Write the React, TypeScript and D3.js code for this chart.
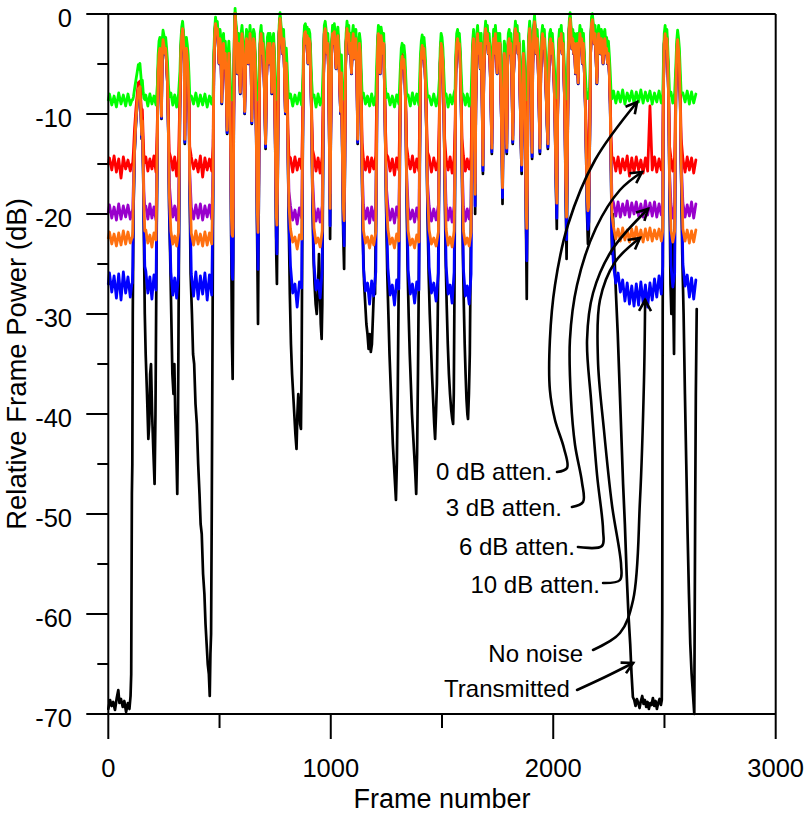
import React from "react";
import * as d3 from "d3";

type Pt = [number, number];

// transmitted frame power (black trace), [frame, dB]
const transmitted: Pt[] = [
  [0, -69.5], [8, -68.6], [15, -69.2], [22, -68.8], [30, -69.6], [38, -68.4], [45, -67.6], [50, -68.9],
  [57, -68.5], [65, -69.3], [72, -68.7], [80, -69.8], [88, -68.9], [95, -69.5], [100, -68.2], [103, -66],
  [106, -48], [108, -45], [110, -30], [113, -20], [118, -14], [124, -11], [130, -9], [135, -7.6],
  [139, -8.5], [142, -7.4], [146, -9.5], [150, -12.5], [153, -11], [157, -16], [160, -22], [164, -30],
  [168, -34], [174, -38], [180, -42.5], [184, -41], [188, -36], [192, -35], [197, -40], [203, -44],
  [208, -47], [212, -40], [215, -30], [218, -20], [221, -12], [224, -6], [228, -4], [232, -3.5],
  [236, -5], [239, -10.5], [242, -4], [246, -2.6], [250, -3.2], [254, -4], [258, -3.5], [262, -5],
  [266, -7], [270, -12], [274, -20], [278, -24], [283, -30], [288, -36], [293, -38], [297, -35],
  [301, -40], [306, -44], [310, -48], [313, -42], [316, -30], [319, -18], [322, -9], [326, -4],
  [330, -2.2], [334, -1.5], [338, -2.8], [341, -4], [344, -13], [347, -5], [351, -3.5], [355, -4.5],
  [359, -6], [363, -10], [366, -18], [370, -26], [376, -30], [381, -34], [386, -35], [392, -39],
  [398, -41], [404, -45], [410, -48], [415, -51], [420, -52], [426, -56], [432, -58], [437, -61],
  [442, -63], [447, -65], [452, -66], [456, -68.2], [459, -64], [462, -62], [465, -50], [467, -40],
  [469, -30], [471, -18], [474, -6], [478, -2.5], [482, -1], [486, -2], [490, -1.5], [494, -3],
  [498, -5], [502, -2.5], [506, -3.5], [510, -9], [514, -4], [518, -3], [522, -5.5], [526, -4],
  [530, -7], [534, -12], [538, -6], [542, -4], [546, -8], [550, -14], [553, -24], [556, -33],
  [559, -36.5], [561, -28], [564, -10], [567, -2], [570, 0], [573, -1.5], [577, -2.5], [581, -6],
  [585, -3], [589, -4.5], [593, -8], [597, -3], [601, -2], [605, -3.5], [609, -6], [613, -10],
  [617, -5], [621, -2.5], [625, -3], [629, -5], [633, -4], [637, -2], [641, -3.5], [645, -11],
  [649, -4], [653, -2.5], [657, -3], [661, -6], [665, -12], [669, -22], [673, -31], [676, -20],
  [679, -8], [683, -3], [687, -2], [691, -4], [695, -3], [699, -5], [703, -9], [707, -13.5],
  [711, -7], [715, -3.5], [719, -3], [723, -5], [727, -3], [731, -4], [735, -8], [739, -4],
  [743, -3], [747, -6], [751, -14], [755, -24], [758, -27], [761, -18], [764, -7], [768, -2],
  [772, -0.5], [776, -1.8], [780, -3], [784, -4], [788, -2.5], [792, -6], [796, -10], [800, -5],
  [804, -8], [808, -15], [812, -22], [816, -28], [821, -33], [826, -36], [831, -38], [836, -40],
  [841, -42], [846, -43.5], [850, -40], [854, -38], [858, -39], [862, -41], [866, -41.5], [869, -35],
  [872, -22], [875, -10], [878, -4], [882, -2], [886, -1.8], [890, -3], [894, -2.2], [898, -5],
  [902, -2.5], [906, -3], [910, -6], [914, -11], [918, -19], [922, -24], [927, -27], [932, -29],
  [937, -30], [942, -28], [947, -24], [951, -27], [955, -31], [959, -32.5], [962, -29], [965, -16],
  [968, -6], [971, -2], [975, -1.5], [979, -2.5], [983, -4], [987, -3], [991, -7], [994, -14],
  [997, -22.5], [1000, -12], [1004, -4], [1008, -2], [1012, -3], [1016, -1.8], [1020, -3], [1024, -5.5],
  [1028, -3], [1032, -2.2], [1036, -4], [1040, -7], [1044, -10], [1048, -6], [1052, -14], [1056, -22],
  [1060, -25.5], [1063, -16], [1066, -6], [1069, -3], [1073, -1.5], [1077, -2.5], [1081, -2], [1085, -4],
  [1089, -3], [1093, -6], [1097, -3], [1101, -2], [1105, -4.5], [1109, -3], [1113, -2.5], [1117, -5],
  [1121, -13], [1125, -6], [1129, -3], [1133, -4], [1137, -9], [1141, -17], [1145, -23], [1150, -27],
  [1155, -29], [1160, -31], [1165, -32], [1170, -33.5], [1175, -32], [1180, -33.8], [1185, -33], [1190, -30],
  [1195, -27], [1199, -28], [1203, -20], [1206, -10], [1210, -4], [1214, -2], [1218, -2.5], [1222, -6],
  [1226, -2.2], [1230, -3], [1234, -4], [1238, -3], [1242, -8], [1246, -14], [1250, -21], [1254, -26],
  [1259, -30], [1264, -34], [1269, -37], [1274, -40], [1279, -43], [1284, -45], [1289, -47], [1293, -48.6],
  [1297, -45], [1301, -38], [1305, -28], [1309, -15], [1313, -8], [1317, -5], [1321, -4.3], [1325, -5.5],
  [1329, -4.6], [1333, -6], [1337, -10], [1341, -18], [1345, -25], [1350, -30], [1355, -34], [1360, -37],
  [1365, -40], [1370, -42], [1375, -44], [1380, -46], [1384, -48], [1388, -44], [1392, -36], [1396, -26],
  [1400, -14], [1403, -6], [1407, -4], [1411, -3.2], [1415, -4.5], [1419, -3.5], [1423, -5], [1427, -8],
  [1431, -13], [1435, -20], [1440, -26], [1445, -30], [1450, -33], [1455, -36], [1460, -38.5], [1465, -41],
  [1469, -42.5], [1473, -40], [1477, -37], [1481, -30], [1485, -20], [1489, -10], [1492, -5], [1496, -3],
  [1500, -3.5], [1504, -5], [1508, -9], [1512, -16], [1516, -24], [1521, -29], [1526, -33], [1531, -36],
  [1536, -38], [1541, -39.5], [1546, -40.5], [1550, -41], [1553, -38], [1556, -28], [1559, -14], [1562, -6],
  [1566, -3], [1570, -2.5], [1574, -3.5], [1578, -3], [1582, -5], [1586, -9], [1590, -16], [1594, -24],
  [1598, -29], [1602, -33], [1606, -36], [1610, -38.5], [1614, -40], [1617, -40.5], [1621, -38], [1625, -34],
  [1629, -24], [1633, -12], [1638, -4], [1642, -2.5], [1646, -8], [1649, -20], [1652, -9], [1656, -3],
  [1660, -2], [1664, -4], [1668, -3], [1672, -5.5], [1676, -3], [1680, -8], [1684, -16], [1688, -6],
  [1692, -3], [1696, -1.5], [1700, -3], [1704, -2], [1708, -4], [1712, -3], [1716, -5], [1720, -9],
  [1724, -14], [1728, -5], [1732, -2.5], [1736, -4], [1740, -2], [1744, -3.5], [1748, -6], [1752, -3],
  [1756, -4], [1760, -3], [1764, -7], [1768, -12], [1772, -19], [1776, -9], [1780, -4], [1784, -5],
  [1788, -9], [1791, -14], [1794, -6], [1798, -3], [1802, -2.5], [1806, -4], [1810, -3], [1814, -6],
  [1818, -13], [1822, -6], [1826, -3], [1830, -1.5], [1834, -3], [1838, -2], [1842, -4], [1846, -3],
  [1850, -7], [1854, -12], [1858, -16], [1862, -8], [1866, -4], [1870, -6], [1874, -12], [1878, -22],
  [1881, -28.5], [1884, -18], [1887, -6], [1890, -3], [1894, -1.5], [1898, -3], [1902, -9], [1905, -14.5],
  [1908, -5], [1912, -2], [1916, -0.8], [1920, -2.5], [1924, -4], [1928, -2.5], [1932, -5], [1936, -9],
  [1940, -14], [1944, -6], [1948, -3], [1952, -2], [1956, -3.5], [1960, -2.5], [1964, -5], [1968, -8],
  [1972, -11], [1976, -13.5], [1980, -6], [1984, -3], [1988, -2.5], [1992, -4], [1996, -3], [2000, -5],
  [2004, -7], [2008, -11], [2012, -17], [2016, -21.5], [2020, -10], [2024, -4], [2028, -2.5], [2032, -3.5],
  [2036, -2], [2040, -4], [2044, -3], [2048, -6], [2052, -10], [2056, -18], [2060, -24.5], [2064, -14],
  [2068, -4], [2072, -1.5], [2076, -0.5], [2080, -2], [2084, -3.5], [2088, -2.5], [2092, -4], [2096, -3],
  [2100, -6], [2104, -4], [2108, -3], [2112, -7], [2116, -3.5], [2120, -2], [2124, -3], [2128, -2.5],
  [2132, -5], [2136, -3], [2140, -6], [2144, -9], [2148, -14], [2152, -20], [2156, -23], [2160, -22],
  [2164, -13], [2168, -4], [2172, -1], [2176, -0.6], [2180, -1.8], [2184, -3], [2188, -2], [2192, -4],
  [2196, -7], [2200, -3], [2204, -2], [2208, -2.8], [2212, -4], [2216, -2.5], [2220, -3], [2224, -5],
  [2228, -3], [2232, -2.5], [2236, -4], [2240, -3.5], [2244, -5], [2248, -4], [2252, -6], [2256, -9],
  [2260, -16], [2264, -24], [2268, -20], [2275, -24], [2282, -28], [2290, -32], [2298, -37], [2306, -42],
  [2314, -47], [2322, -51], [2330, -56], [2338, -60], [2346, -63], [2352, -66], [2358, -68.3], [2364, -68.6],
  [2370, -69.2], [2376, -68.5], [2382, -68.9], [2388, -69.4], [2394, -68.7], [2400, -68.2], [2406, -69], [2412, -68.6],
  [2418, -69.3], [2424, -68.8], [2430, -69.5], [2436, -68.9], [2442, -69.1], [2448, -68.4], [2454, -69.2], [2460, -68.7],
  [2466, -69.5], [2472, -68.9], [2478, -68.5], [2484, -69.1], [2488, -68.6], [2490, -60], [2492, -30], [2495, -8],
  [2499, -3], [2503, -2], [2507, -3.5], [2511, -2.5], [2515, -5], [2519, -9], [2523, -18], [2527, -27],
  [2531, -30], [2535, -22], [2539, -28], [2543, -34], [2547, -20], [2551, -8], [2555, -4], [2559, -2.6],
  [2563, -3.5], [2567, -5], [2571, -9], [2575, -16], [2580, -24], [2586, -30], [2592, -38], [2598, -45],
  [2604, -52], [2610, -58], [2616, -63], [2622, -66], [2628, -68], [2634, -70], [2638, -50], [2641, -38],
  [2645, -29.5],
];

// frame spans where the transmitter is idle and only the noise floor shows
const gapSpans: Pt[] = [
  [0, 104], [164, 219], [277, 320], [368, 470], [814, 874], [920, 966], [1142, 1207], [1252, 1311],
  [1343, 1401], [1437, 1489], [1514, 1559], [1592, 1635], [2266, 2491], [2525, 2550], [2578, 2646],
];

// noise floor readings inside each idle span, per curve (dB)
const greenFloor: number[][] = [
  [-8.0, -9.1, -8.2, -9.3, -7.9, -9.0, -8.1, -9.2, -8.0, -9.1],
  [-8.1, -9.2, -8.0, -9.0, -8.2, -9.1],
  [-7.9, -9.1, -8.1, -9.3, -8.0],
  [-8.2, -9.0, -7.9, -9.2, -8.1, -9.1, -8.0, -9.3, -8.2, -9.0],
  [-8.0, -9.2, -8.1, -9.0, -7.9, -9.1],
  [-8.1, -9.3, -8.0, -9.1, -8.2],
  [-7.9, -9.0, -8.2, -9.2, -8.0, -9.1, -8.1],
  [-8.0, -9.1, -8.2, -9.3, -8.1, -9.0],
  [-8.1, -9.2, -7.9, -9.0, -8.0, -9.1],
  [-8.2, -9.1, -8.0, -9.2, -8.1],
  [-8.0, -9.3, -8.1, -9.0, -7.9],
  [-8.1, -9.1, -8.0, -9.2, -8.2],
  [-7.7, -8.9, -7.8, -8.8, -7.6, -9.0, -7.9, -8.7, -7.7, -8.9, -7.8, -8.8, -7.6, -8.9, -7.8, -8.7, -7.7, -9.0, -7.9, -8.8, -7.7, -8.9],
  [-7.8, -8.9, -7.9],
  [-7.9, -8.8, -7.7, -9.0, -7.8, -8.9, -8.0],
];

const redFloor: number[][] = [
  [-14.4, -15.6, -14.2, -15.8, -14.5, -16.4, -14.3, -15.5, -14.6, -15.7],
  [-14.3, -15.7, -14.5, -15.5, -14.2, -15.8],
  [-14.4, -15.6, -14.3, -16.2, -14.5],
  [-14.3, -15.5, -14.6, -15.8, -14.2, -16.3, -14.4, -15.6, -14.5, -15.7],
  [-14.4, -15.8, -14.3, -15.6, -14.5, -15.5],
  [-14.2, -15.7, -14.4, -15.9, -14.3],
  [-14.5, -15.6, -14.3, -15.8, -14.4, -15.5, -14.2],
  [-14.3, -15.7, -14.5, -16.1, -14.4, -15.6],
  [-14.4, -15.5, -14.2, -15.8, -14.5, -15.7],
  [-14.3, -15.8, -14.4, -15.6, -14.5],
  [-14.5, -15.6, -14.3, -15.9, -14.4],
  [-14.2, -15.7, -14.5, -15.5, -14.3],
  [-14.4, -15.7, -14.3, -15.9, -14.5, -15.6, -14.2, -16.2, -14.4, -15.8, -14.3, -15.6, -14.6, -15.9, -14.4, -15.7, -9.2, -15.6, -14.3, -15.8, -14.5, -15.6],
  [-14.4, -15.7, -14.3],
  [-14.5, -15.8, -14.3, -15.6, -14.4, -15.9, -14.6],
];

const purpleFloor: number[][] = [
  [-19.1, -20.4, -19.3, -20.6, -19.0, -20.5, -19.2, -20.3, -19.1, -20.5],
  [-19.2, -20.5, -19.0, -20.4, -19.3, -20.6],
  [-19.1, -20.3, -19.2, -20.6, -19.0],
  [-19.3, -20.5, -19.1, -20.4, -19.0, -20.6, -19.2, -20.3, -19.1, -20.5],
  [-19.2, -20.6, -19.6, -21.0, -19.4, -20.4],
  [-19.3, -20.7, -19.5, -20.8, -19.2],
  [-19.1, -20.5, -19.4, -20.9, -19.3, -20.6, -19.2],
  [-19.2, -20.6, -19.5, -20.9, -19.3, -20.4],
  [-19.3, -20.5, -19.6, -20.8, -19.4, -20.6],
  [-19.2, -20.7, -19.5, -20.6, -19.1],
  [-19.1, -20.6, -19.4, -20.8, -19.2],
  [-19.3, -20.7, -19.5, -20.5, -19.2],
  [-18.9, -20.2, -18.8, -20.3, -19.0, -20.1, -18.7, -20.3, -18.9, -20.0, -18.8, -20.2, -19.0, -20.3, -18.7, -20.1, -18.9, -20.2, -18.8, -20.3, -19.0, -20.1],
  [-19.0, -20.4, -19.1],
  [-18.9, -20.3, -19.1, -20.2, -18.8, -20.4, -19.0],
];

const orangeFloor: number[][] = [
  [-21.8, -23.0, -22.0, -23.2, -21.9, -23.1, -21.7, -23.0, -21.8, -22.9],
  [-21.6, -22.9, -22.1, -23.3, -21.9, -22.6],
  [-21.7, -23.0, -22.2, -23.2, -21.8],
  [-21.9, -23.1, -21.7, -23.0, -22.0, -23.2, -21.8, -23.1, -21.9, -23.0],
  [-21.5, -22.8, -22.3, -23.5, -22.1, -22.5],
  [-21.4, -22.9, -22.4, -23.3, -21.7],
  [-21.6, -22.9, -22.3, -23.4, -22.2, -23.1, -21.8],
  [-21.5, -23.0, -22.4, -23.4, -22.0, -22.7],
  [-21.7, -23.1, -22.5, -23.4, -22.1, -22.8],
  [-21.6, -23.0, -22.4, -23.2, -21.8],
  [-21.5, -23.1, -22.3, -23.3, -21.7],
  [-21.7, -23.0, -22.4, -23.2, -21.8],
  [-21.3, -22.5, -21.5, -22.7, -21.4, -22.6, -21.6, -22.8, -21.5, -22.6, -21.3, -22.7, -21.6, -22.8, -21.5, -22.6, -21.4, -22.7, -21.6, -22.5, -21.5, -22.7],
  [-21.6, -22.8, -21.7],
  [-21.5, -22.7, -21.6, -22.9, -21.7, -22.8, -21.6],
];

const blueFloor: number[][] = [
  [-25.9, -27.8, -26.2, -28.4, -26.0, -28.6, -25.8, -27.9, -26.3, -28.3],
  [-25.7, -27.9, -26.3, -28.5, -26.1, -27.6],
  [-25.8, -28.1, -26.4, -28.4, -26.0],
  [-26.0, -28.2, -25.8, -28.5, -26.2, -28.0, -25.9, -28.6, -26.1, -28.1],
  [-25.2, -27.9, -27.0, -29.3, -26.8, -27.4],
  [-25.0, -27.6, -26.6, -28.4, -25.6],
  [-25.3, -27.7, -26.9, -29.0, -26.7, -28.2, -25.8],
  [-25.4, -28.1, -27.1, -29.1, -26.6, -27.5],
  [-25.6, -28.0, -27.0, -28.9, -26.8, -27.6],
  [-25.3, -27.9, -26.9, -28.7, -25.9],
  [-25.2, -28.0, -27.1, -28.9, -25.8],
  [-25.5, -28.2, -27.2, -29.0, -26.0],
  [-25.2, -26.9, -25.9, -27.8, -26.6, -28.7, -26.9, -29.0, -27.2, -29.2, -27.0, -29.1, -26.8, -28.9, -27.1, -29.3, -26.9, -28.6, -26.5, -28.3, -26.2, -28.0],
  [-25.1, -27.3, -25.9],
  [-25.0, -27.2, -26.1, -28.3, -26.4, -28.5, -26.6],
];

const xMajorTicks = [0, 1000, 2000, 3000];
const xMinorTicks = [500, 1500, 2500];
const yMajorTicks = [0, -10, -20, -30, -40, -50, -60, -70];
const yMinorTicks = [-5, -15, -25, -35, -45, -55, -65];

// curves drawn from the bottom of the stack up
const noisySeries = [
  { name: "No noise", color: "#0000ff", level: -27.0, floor: blueFloor },
  { name: "6 dB atten.", color: "#9900cc", level: -19.8, floor: purpleFloor },
  { name: "3 dB atten.", color: "#ff0000", level: -15.0, floor: redFloor },
  { name: "0 dB atten.", color: "#00ff00", level: -8.6, floor: greenFloor },
  { name: "10 dB atten.", color: "#ff7010", level: -22.4, floor: orangeFloor },
];

// label anchors (text end, baseline) and leader curves in [frame, dB]
const annotations: { label: string; at: Pt; path: Pt[] }[] = [
  {
    label: "0 dB atten.",
    at: [1995, -46.6],
    path: [[2017, -45.8], [2062, -45.4], [2048, -43.4], [2008, -40.6], [1985, -37.6], [1985, -32.6], [2008, -27.1], [2066, -21.1], [2188, -14.6], [2377, -8.8]],
  },
  {
    label: "3 dB atten.",
    at: [2039, -50.2],
    path: [[2084, -49.3], [2134, -48.8], [2129, -46.8], [2098, -43.1], [2080, -38.6], [2075, -32.6], [2107, -27.1], [2192, -21.4], [2300, -17.6], [2399, -15.8]],
  },
  {
    label: "6 dB atten.",
    at: [2098, -54.1],
    path: [[2111, -53.3], [2219, -53.2], [2224, -51.6], [2197, -46.1], [2170, -38.6], [2152, -32.6], [2179, -27.9], [2264, -23.6], [2426, -19.5]],
  },
  {
    label: "10 dB atten.",
    at: [2210, -57.9],
    path: [[2224, -56.9], [2300, -56.6], [2305, -55.1], [2264, -49.1], [2228, -41.6], [2201, -34.6], [2210, -28.6], [2278, -24.8], [2390, -22.4]],
  },
  {
    label: "No noise",
    at: [2134, -64.8],
    path: [[2179, -63.6], [2300, -61.9], [2359, -58.6], [2390, -48.6], [2408, -36.6], [2413, -28.6]],
  },
  {
    label: "Transmitted",
    at: [2075, -68.3],
    path: [[2107, -67.6], [2233, -66.3], [2359, -64.9]],
  },
];

const FONT = "'Liberation Sans', Arial, sans-serif";

// signal plus a noise floor, summed in power
const addNoise = (sig: number, noise: number) =>
  10 * Math.log10(Math.pow(10, sig / 10) + Math.pow(10, noise / 10));

const buildSeries = (level: number, floor: number[][]): Pt[] => {
  const pts: Pt[] = [];
  transmitted.forEach(([f, db]) => {
    if (gapSpans.some(([a, b]) => f > a && f < b)) return;
    pts.push([f, addNoise(db, level)]);
  });
  gapSpans.forEach(([a, b], gi) => {
    const vals = floor[gi];
    vals.forEach((v, i) => pts.push([a + ((b - a) * (i + 0.5)) / vals.length, v]));
  });
  pts.sort((p, q) => p[0] - q[0]);
  return pts;
};

export default function App() {
  const width = 809;
  const height = 814;
  const x = d3.scaleLinear().domain([0, 3000]).range([108.3, 775.7]);
  const y = d3.scaleLinear().domain([-70, 0]).range([714, 14]);

  const line = d3
    .line<Pt>()
    .x((d) => x(d[0]))
    .y((d) => y(d[1]));
  const leader = d3
    .line<Pt>()
    .x((d) => x(d[0]))
    .y((d) => y(d[1]))
    .curve(d3.curveCatmullRom.alpha(0.5));

  const [x0, x1] = x.range();
  const [yb, yt] = y.range();

  return (
    <svg
      width={width}
      height={height}
      style={{ position: "absolute", left: 0, top: 0, background: "#fff" }}
      fontFamily={FONT}
    >
      <defs>
        <marker
          id="chev"
          markerUnits="userSpaceOnUse"
          markerWidth={30}
          markerHeight={30}
          viewBox="-15 -15 30 30"
          refX={0}
          refY={0}
          orient="auto"
        >
          <path d="M-11,-6 L0,0 L-11,6" fill="none" stroke="#000" strokeWidth={2.6} strokeLinejoin="miter" />
        </marker>
      </defs>

      {/* data */}
      <g fill="none" strokeLinejoin="round" strokeLinecap="round">
        <path d={line(transmitted) ?? ""} stroke="#000" strokeWidth={2.7} />
        {noisySeries.map((s) => (
          <path key={s.name} d={line(buildSeries(s.level, s.floor)) ?? ""} stroke={s.color} strokeWidth={2.8} />
        ))}
      </g>

      {/* frame and axes */}
      <g stroke="#000" strokeWidth={2} fill="none">
        <line x1={x0} x2={x1} y1={yt} y2={yt} />
        <line x1={x1} x2={x1} y1={yt} y2={yb} />
        <line x1={x0} x2={x1} y1={yb} y2={yb} />
        <line x1={x0} x2={x0} y1={yt} y2={yb} />
        {xMajorTicks.map((t) => (
          <line key={"xM" + t} x1={x(t)} x2={x(t)} y1={yb} y2={yb + 25} />
        ))}
        {xMinorTicks.map((t) => (
          <line key={"xm" + t} x1={x(t)} x2={x(t)} y1={yb} y2={yb + 14} />
        ))}
        {yMajorTicks.map((t) => (
          <line key={"yM" + t} x1={x0 - 22} x2={x0} y1={y(t)} y2={y(t)} />
        ))}
        {yMinorTicks.map((t) => (
          <line key={"ym" + t} x1={x0 - 11} x2={x0} y1={y(t)} y2={y(t)} />
        ))}
      </g>

      <g fontSize={25.5} fill="#000">
        {xMajorTicks.map((t) => (
          <text key={"xl" + t} x={x(t)} y={777} textAnchor="middle">
            {t}
          </text>
        ))}
        {yMajorTicks.map((t) => (
          <text key={"yl" + t} x={72} y={y(t) + 12.5} textAnchor="end">
            {t}
          </text>
        ))}
      </g>

      <text x={(x0 + x1) / 2} y={808} textAnchor="middle" fontSize={27} fill="#000">
        Frame number
      </text>
      <text
        transform={`translate(26,${(yt + yb) / 2}) rotate(-90)`}
        textAnchor="middle"
        fontSize={27.5}
        fill="#000"
      >
        Relative Frame Power (dB)
      </text>

      {/* annotations */}
      <g>
        {annotations.map((a) => (
          <g key={a.label}>
            <path
              d={leader(a.path) ?? ""}
              fill="none"
              stroke="#000"
              strokeWidth={2.6}
              strokeLinecap="round"
              markerEnd="url(#chev)"
            />
            <text x={x(a.at[0])} y={y(a.at[1])} textAnchor="end" fontSize={24} fill="#000">
              {a.label}
            </text>
          </g>
        ))}
      </g>
    </svg>
  );
}
